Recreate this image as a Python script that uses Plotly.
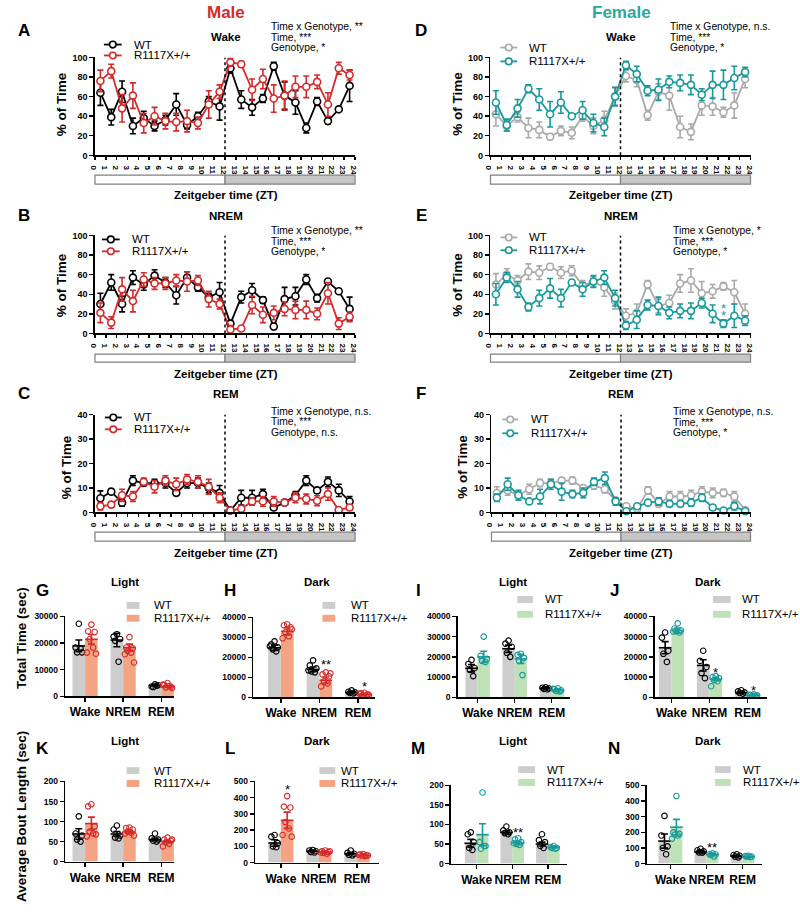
import plotly.graph_objects as go

W, H = 800, 922
FONT = "Liberation Sans, Arial, Helvetica, sans-serif"
RED = '#d42a2a'
TEAL = '#17999b'
TEAL_T = '#2aa8a0'
GRAY_L = '#a9a9a9'
BAR_GRAY = '#cdcdcd'
BAR_OR = '#f4a383'
BAR_GR = '#bfe1b8'

# ---------------- data ----------------
zt = [0.5, 1.5, 2.5, 3.5, 4.5, 5.5, 6.5, 7.5, 8.5, 9.5, 10.5, 11.5,
      12.5, 13.5, 14.5, 15.5, 16.5, 17.5, 18.5, 19.5, 20.5, 21.5, 22.5, 23.5]
zt_ticks = [0, 1, 2, 3, 4, 5, 6, 7, 8, 9, 10, 11, 12, 13, 14, 15, 16, 17, 18, 19, 20, 21, 22, 23, 24]

A_wt = [64, 39, 65, 30, 38, 30, 36, 52, 31, 40, 55, 50, 89, 57, 49, 58, 91, 61, 54, 28, 55, 35, 47, 71]
A_wt_err = [13, 8, 11, 8, 7, 5, 5, 11, 4, 4, 5, 14, 5, 9, 8, 4, 4, 14, 12, 5, 4, 3, 2, 16]
A_ko = [76, 86, 48, 61, 33, 40, 35, 34, 35, 33, 52, 65, 95, 93, 67, 78, 58, 61, 70, 70, 75, 52, 89, 82]
A_ko_err = [11, 7, 14, 13, 10, 9, 8, 9, 11, 6, 14, 7, 4, 3, 11, 10, 14, 15, 11, 11, 7, 12, 6, 5]

B_wt = [30, 52, 30, 57, 50, 59, 52, 39, 57, 47, 37, 42, 10, 37, 44, 34, 7, 35, 38, 55, 36, 53, 43, 25]
B_wt_err = [11, 8, 8, 7, 6, 6, 5, 9, 6, 4, 4, 10, 3, 6, 7, 3, 3, 12, 9, 5, 4, 2, 2, 12]
B_ko = [21, 11, 45, 33, 55, 51, 51, 54, 53, 54, 35, 30, 4, 5, 29, 19, 21, 25, 24, 24, 20, 41, 10, 17]
B_ko_err = [10, 6, 12, 11, 7, 6, 6, 6, 10, 5, 8, 5, 4, 2, 9, 8, 7, 7, 9, 9, 6, 11, 6, 5]

C_wt = [5.8, 8.5, 4, 13, 12, 12, 12, 8, 12, 12, 10, 8, 0.8, 6, 6, 7.5, 2, 4, 7, 13, 9, 12.5, 9, 4.5]
C_wt_err = [3, 1, 1.5, 2, 1, 1.5, 2, 1, 2, 2, 2, 3, 0.5, 3, 3, 2, 1, 1, 1.5, 2, 1, 2, 2.5, 2]
C_ko = [2.5, 3.2, 7, 6.5, 12.5, 10.5, 13, 11.5, 13.5, 12.5, 10.5, 6, 0.8, 1.5, 4.5, 4.5, 4.5, 4, 6, 5.5, 4.8, 7.5, 1, 2]
C_ko_err = [1.5, 1, 2.5, 2, 1.5, 2.5, 2, 2.5, 2, 2.5, 3, 2, 0.5, 0.5, 1.5, 2, 2, 1, 2, 2, 2, 2.5, 0.5, 1]

D_wt = [42, 30, 39, 28, 26, 19, 25, 23, 40, 30, 36, 60, 81, 77, 41, 65, 61, 29, 24, 51, 50, 44, 51, 78]
D_wt_err = [12, 5, 5, 10, 8, 3, 5, 6, 5, 8, 9, 10, 6, 7, 5, 8, 15, 11, 8, 10, 9, 5, 13, 9]
D_ko = [54, 31, 48, 68, 57, 42, 54, 40, 46, 33, 29, 60, 92, 83, 66, 67, 75, 74, 72, 62, 72, 72, 79, 85]
D_ko_err = [12, 6, 9, 4, 11, 13, 11, 2, 9, 9, 9, 9, 4, 8, 5, 11, 6, 8, 10, 6, 14, 15, 12, 5]

E_wt = [50, 60, 54, 63, 62, 68, 62, 64, 49, 53, 47, 33, 18, 21, 50, 28, 31, 51, 54, 41, 43, 48, 42, 20]
E_wt_err = [11, 6, 5, 8, 7, 3, 6, 5, 5, 5, 9, 8, 7, 9, 4, 7, 8, 9, 12, 12, 7, 4, 12, 10]
E_ko = [40, 57, 45, 27, 36, 46, 36, 52, 45, 53, 57, 36, 8, 14, 29, 28, 21, 23, 23, 31, 20, 10, 18, 13]
E_ko_err = [11, 5, 8, 4, 8, 10, 9, 2, 7, 6, 7, 8, 4, 9, 5, 9, 6, 7, 8, 5, 9, 4, 12, 5]

F_wt = [8, 9, 7, 9.5, 12, 12, 13, 13, 10, 11, 9.5, 5, 2.5, 1.5, 9, 3.5, 6.5, 6.5, 7, 8.5, 8, 8, 6.5, 1]
F_wt_err = [2.5, 2, 1.5, 2, 1.5, 1.5, 1, 1.5, 1, 1.5, 1.5, 1, 1, 1, 1.5, 1, 2, 2, 2, 2, 2, 1.5, 2, 0.5]
F_ko = [6, 11.5, 7, 4.5, 6.5, 11.5, 8.5, 7.5, 8, 12.5, 14, 4.5, 0.5, 2.5, 4, 4.5, 3.5, 3.5, 4, 6, 2, 0.8, 2.5, 0.5]
F_ko_err = [1.5, 2.5, 2, 0.5, 3, 2, 3.5, 1.5, 2, 1.5, 2.5, 1.5, 0.5, 1, 1, 1.5, 1, 1, 1.5, 1.5, 1, 0.5, 1.5, 0.3]

states = ['Wake', 'NREM', 'REM']

G_wt_mean = [18900, 21100, 4100]; G_wt_err = [2200, 2500, 400]
G_ko_mean = [21400, 18300, 3700]; G_ko_err = [1800, 1300, 300]
G_wt_pts = [[27200, 18300, 16500, 16500, 18000], [23300, 22400, 21500, 20800, 13000], [4500, 3700, 4200, 3500, 4000]]
G_ko_pts = [[26900, 24400, 24100, 21400, 18300, 16400, 16000], [22200, 18300, 18000, 17000, 16400, 15800, 12700],
            [5000, 4300, 3600, 3400, 3900, 4400, 3200]]

H_wt_mean = [24800, 14000, 2500]; H_wt_err = [1300, 1200, 400]
H_ko_mean = [33000, 8600, 1600]; H_ko_err = [1800, 1600, 300]
H_wt_pts = [[28000, 26500, 25000, 24000, 23000, 25500], [18500, 16000, 14500, 13000, 12500, 13500], [3500, 2800, 2500, 2200, 2000]]
H_ko_pts = [[36500, 36000, 35000, 32500, 30500, 29500, 34000], [12500, 11500, 10500, 8000, 7000, 5500, 12000],
            [2300, 2000, 1500, 1000, 800, 1900, 1200]]

I_wt_mean = [14400, 24000, 4500]; I_wt_err = [1800, 1800, 300]
I_ko_mean = [20000, 19000, 3700]; I_ko_err = [2800, 2200, 400]
I_wt_pts = [[18500, 16500, 14500, 13500, 10500], [28000, 26500, 25000, 22000, 20000], [5000, 4800, 4500, 4200, 4000]]
I_ko_pts = [[30000, 20500, 19000, 18000, 17500], [21500, 21000, 19500, 18000, 11000], [4500, 4000, 3500, 3200, 3000, 4200]]

J_wt_mean = [24500, 15800, 2300]; J_wt_err = [3000, 2800, 400]
J_ko_mean = [33000, 9000, 1100]; J_ko_err = [1200, 800, 200]
J_wt_pts = [[32000, 29500, 23000, 21500, 17500], [23000, 18000, 15000, 12000, 9500], [3500, 3000, 2500, 2200, 1800]]
J_ko_pts = [[36500, 34000, 33000, 32500, 32000, 32500], [10500, 10000, 9500, 8500, 8000, 5500], [1500, 1200, 1000, 800, 800, 1300]]

K_wt_mean = [69, 69, 55]; K_wt_err = [13, 6, 3]
K_ko_mean = [95, 74, 50]; K_ko_err = [16, 4, 3]
K_wt_pts = [[113, 70, 65, 55, 50], [90, 80, 65, 60, 58], [70, 58, 55, 52, 50]]
K_ko_pts = [[143, 138, 88, 75, 70, 63, 68], [85, 84, 80, 75, 72, 70, 65], [60, 55, 52, 48, 45, 38, 55]]

L_wt_mean = [121, 71, 55]; L_wt_err = [20, 3, 5]
L_ko_mean = [261, 65, 45]; L_ko_err = [50, 3, 3]
L_wt_pts = [[170, 160, 120, 100, 95], [78, 75, 70, 65, 62], [75, 60, 55, 48, 45]]
L_ko_pts = [[410, 345, 340, 250, 210, 170, 160], [75, 70, 65, 60, 55, 62, 70], [52, 50, 45, 42, 40, 48, 44]]

M_wt_mean = [52, 80, 50]; M_wt_err = [10, 4, 5]
M_ko_mean = [74, 53, 42]; M_ko_err = [28, 4, 2]
M_wt_pts = [[80, 75, 55, 40, 35], [95, 85, 80, 78, 75], [75, 60, 55, 45, 40]]
M_ko_pts = [[182, 55, 45, 38, 45], [65, 62, 55, 50, 48, 52], [45, 42, 40, 40, 38]]

N_wt_mean = [144, 74, 48]; N_wt_err = [45, 6, 4]
N_ko_mean = [233, 59, 45]; N_ko_err = [50, 4, 2]
N_wt_pts = [[305, 180, 110, 100, 60], [95, 85, 78, 72, 70], [60, 55, 50, 45, 40]]
N_ko_pts = [[432, 200, 190, 185, 180, 160], [65, 60, 58, 55, 45], [50, 48, 45, 45, 42]]

# ---------------- helpers ----------------
fig = go.Figure()
layout = {}
shapes = []
annos = []
count = [0]


def add_axes(xd, yd, xr, yr, xkw, ykw):
    count[0] += 1
    n = count[0]
    s = '' if n == 1 else str(n)
    layout['xaxis' + s] = dict(domain=xd, range=xr, anchor='y' + s, **xkw)
    layout['yaxis' + s] = dict(domain=yd, range=yr, anchor='x' + s, **ykw)
    return 'x' + s, 'y' + s


def text(x, y, s, size, color='black', xanchor='center', yanchor='middle', angle=0):
    annos.append(dict(x=x / W, y=1 - y / H, xref='paper', yref='paper', text=s, showarrow=False,
                      font=dict(family=FONT, size=size, color=color), xanchor=xanchor,
                      yanchor=yanchor, textangle=angle))


def star(xa, ya, x, y, s, size=13, color='black'):
    annos.append(dict(x=x, y=y, xref=xa, yref=ya, text=s, showarrow=False,
                      font=dict(family=FONT, size=size, color=color), yshift=-4))


AX = dict(showline=True, linecolor='black', linewidth=1.6, ticks='outside', tickcolor='black',
          tickwidth=1.4, showgrid=False, zeroline=False, fixedrange=True)


def line_panel(px0, px1, py0, py1, ymax, ytv, wt, wt_err, ko, ko_err, wtc, koc, strip):
    xkw = dict(AX, tickvals=zt_ticks, ticklen=3,
               tickfont=dict(family=FONT, size=8, color='black', weight='bold'))
    ykw = dict(AX, tickvals=ytv, ticklen=4,
               tickfont=dict(family=FONT, size=9, color='black', weight='bold'))
    xa, ya = add_axes([px0 / W, px1 / W], [1 - py1 / H, 1 - py0 / H], [0, 24], [0, ymax], xkw, ykw)
    shapes.append(dict(type='line', xref=xa, yref=ya, x0=12, x1=12, y0=0, y1=ymax,
                       line=dict(color='black', width=1.5, dash='dot')))
    for y, e, c in ((wt, wt_err, wtc), (ko, ko_err, koc)):
        fig.add_trace(go.Scatter(
            x=zt, y=y, mode='lines+markers', xaxis=xa, yaxis=ya, cliponaxis=False, showlegend=False,
            line=dict(color=c, width=1.8),
            marker=dict(symbol='circle', size=7, color='white', line=dict(color=c, width=1.6)),
            error_y=dict(type='data', array=e, color=c, thickness=1.6, width=3)))
    # light/dark strip
    st, sb = strip
    s = (px1 - px0) / 24
    h = sb - st
    hid = dict(visible=False, fixedrange=True)
    sxa, sya = add_axes([(px0 - 0.5 * s) / W, (px1 + 0.5 * s) / W],
                        [1 - (sb + 2) / H, 1 - (st - 2) / H],
                        [-0.5, 24.5], [-2 / h, 1 + 2 / h], hid, hid)
    shapes.append(dict(type='rect', xref=sxa, yref=sya, x0=0, x1=12, y0=0, y1=1,
                       fillcolor='white', line=dict(color='#808080', width=1.2)))
    shapes.append(dict(type='rect', xref=sxa, yref=sya, x0=12, x1=24, y0=0, y1=1,
                       fillcolor='#c6c6c6', line=dict(color='#808080', width=1.2)))
    return xa, ya


def line_legend(lx0, lx1, y_wt, y_ko, tx, wtc, koc):
    for y, c, lab in ((y_wt, wtc, 'WT'), (y_ko, koc, 'R1117X+/+')):
        shapes.append(dict(type='line', xref='paper', yref='paper', x0=lx0 / W, x1=lx1 / W,
                           y0=1 - y / H, y1=1 - y / H, line=dict(color=c, width=1.8)))
        cx = (lx0 + lx1) / 2
        shapes.append(dict(type='circle', xref='paper', yref='paper', x0=(cx - 3.3) / W, x1=(cx + 3.3) / W,
                           y0=1 - (y + 3.3) / H, y1=1 - (y - 3.3) / H, fillcolor='white',
                           line=dict(color=c, width=1.6)))
        text(tx, y, lab, 11.5, xanchor='left')


OFFS = [0.0, -0.085, 0.085, -0.045, 0.045, -0.12, 0.12]


def bar_panel(px0, px1, c0, c2, pyt, pyb, ymax, ytv, wm, we, km, ke, wp, kp, kbar, kcol):
    unit = (c2 - c0) / 2
    xr = [(px0 - c0) / unit, (px1 - c0) / unit]
    xkw = dict(AX, tickvals=[0, 1, 2], ticktext=states, ticklen=4,
               tickfont=dict(family=FONT, size=12, color='black', weight='bold'))
    ykw = dict(AX, tickvals=ytv, ticklen=4, tickformat='d',
               tickfont=dict(family=FONT, size=8.5, color='black', weight='bold'))
    xa, ya = add_axes([px0 / W, px1 / W], [1 - pyb / H, 1 - pyt / H], xr, [0, ymax], xkw, ykw)
    bw = 0.33
    for sgn, m, e, pts, bc, lc in ((-1, wm, we, wp, BAR_GRAY, 'black'), (1, km, ke, kp, kbar, kcol)):
        xs = [i + sgn * bw / 2 for i in range(3)]
        fig.add_trace(go.Bar(x=xs, y=m, width=bw, marker=dict(color=bc, line=dict(width=0)),
                             xaxis=xa, yaxis=ya, showlegend=False))
        dx, dy = [], []
        for i in range(3):
            for k, v in enumerate(pts[i]):
                dx.append(xs[i] + OFFS[k % len(OFFS)])
                dy.append(v)
        fig.add_trace(go.Scatter(x=dx, y=dy, mode='markers', xaxis=xa, yaxis=ya, showlegend=False,
                                 cliponaxis=False,
                                 marker=dict(symbol='circle-open', size=5.5, color=lc, line=dict(width=1.1))))
        fig.add_trace(go.Scatter(x=xs, y=m, mode='markers', xaxis=xa, yaxis=ya, showlegend=False,
                                 cliponaxis=False,
                                 marker=dict(symbol='line-ew-open', size=9, color=lc, line=dict(width=1.6, color=lc)),
                                 error_y=dict(type='data', array=e, color=lc, thickness=1.6, width=3.5)))
    return xa, ya


def bar_legend(sx0, sx1, y_wt, y_ko, tx, kbar):
    for y, c, lab in ((y_wt, BAR_GRAY, 'WT'), (y_ko, kbar, 'R1117X+/+')):
        shapes.append(dict(type='rect', xref='paper', yref='paper', x0=sx0 / W, x1=sx1 / W,
                           y0=1 - (y + 3.5) / H, y1=1 - (y - 3.5) / H, fillcolor=c, line=dict(width=0)))
        text(tx, y, lab, 11.5, xanchor='left')


# ---------------- line panels ----------------
ax_A = line_panel(90, 353, 53, 152, 100, [0, 20, 40, 60, 80, 100], A_wt, A_wt_err, A_ko, A_ko_err, 'black', RED, (172, 181))
ax_B = line_panel(90, 353, 233, 332, 100, [0, 20, 40, 60, 80, 100], B_wt, B_wt_err, B_ko, B_ko_err, 'black', RED, (353, 361))
ax_C = line_panel(90, 353, 414, 513, 40, [0, 10, 20, 30, 40], C_wt, C_wt_err, C_ko, C_ko_err, 'black', RED, (533, 542))
ax_D = line_panel(490, 753, 53, 152, 100, [0, 20, 40, 60, 80, 100], D_wt, D_wt_err, D_ko, D_ko_err, GRAY_L, TEAL, (172, 181))
ax_E = line_panel(490, 753, 233, 332, 100, [0, 20, 40, 60, 80, 100], E_wt, E_wt_err, E_ko, E_ko_err, GRAY_L, TEAL, (353, 361))
ax_F = line_panel(491, 753, 414, 513, 40, [0, 10, 20, 30, 40], F_wt, F_wt_err, F_ko, F_ko_err, GRAY_L, TEAL, (533, 542))

star(*ax_A, 22.5, 103, '*', 15, RED)
star(*ax_E, 21.5, 30, '*', 13, TEAL)
star(*ax_E, 21.5, 22, '*', 13, TEAL)

line_legend(99, 117, 40, 51, 127, 'black', RED)
line_legend(97, 115, 237, 249, 125, 'black', RED)
line_legend(100, 117, 417, 429, 127, 'black', RED)
line_legend(500, 517, 43, 57, 527, GRAY_L, TEAL)
line_legend(500, 517, 235, 248, 527, GRAY_L, TEAL)
line_legend(502, 518, 419, 433, 529, GRAY_L, TEAL)

# ---------------- bar panels ----------------
ax_G = bar_panel(60, 170, 80, 157, 618, 699, 30000, [0, 10000, 20000, 30000],
                 G_wt_mean, G_wt_err, G_ko_mean, G_ko_err, G_wt_pts, G_ko_pts, BAR_OR, RED)
ax_H = bar_panel(250, 373, 278, 356, 619, 700, 40000, [0, 10000, 20000, 30000, 40000],
                 H_wt_mean, H_wt_err, H_ko_mean, H_ko_err, H_wt_pts, H_ko_pts, BAR_OR, RED)
ax_I = bar_panel(457, 570, 477, 552, 618, 700, 40000, [0, 10000, 20000, 30000, 40000],
                 I_wt_mean, I_wt_err, I_ko_mean, I_ko_err, I_wt_pts, I_ko_pts, BAR_GR, TEAL)
ax_J = bar_panel(656, 770, 673, 750, 618, 700, 40000, [0, 10000, 20000, 30000, 40000],
                 J_wt_mean, J_wt_err, J_ko_mean, J_ko_err, J_wt_pts, J_ko_pts, BAR_GR, TEAL)
ax_K = bar_panel(60, 170, 80, 157, 785, 866, 200, [0, 50, 100, 150, 200],
                 K_wt_mean, K_wt_err, K_ko_mean, K_ko_err, K_wt_pts, K_ko_pts, BAR_OR, RED)
ax_L = bar_panel(252, 377, 278, 355, 785, 867, 500, [0, 100, 200, 300, 400, 500],
                 L_wt_mean, L_wt_err, L_ko_mean, L_ko_err, L_wt_pts, L_ko_pts, BAR_OR, RED)
ax_M = bar_panel(450, 567, 476, 548, 789, 868, 200, [0, 50, 100, 150, 200],
                 M_wt_mean, M_wt_err, M_ko_mean, M_ko_err, M_wt_pts, M_ko_pts, BAR_GR, TEAL)
ax_N = bar_panel(648, 765, 672, 745, 789, 868, 500, [0, 100, 200, 300, 400, 500],
                 N_wt_mean, N_wt_err, N_ko_mean, N_ko_err, N_wt_pts, N_ko_pts, BAR_GR, TEAL)

star(*ax_H, 0.165, 42000, '**')
star(*ax_H, 1.165, 18300, '**')
star(*ax_H, 2.165, 7400, '*')
star(*ax_J, 0.165, 41000, '*')
star(*ax_J, 1.165, 14200, '*')
star(*ax_J, 2.165, 5400, '*')
star(*ax_L, 0.165, 476, '*')
star(*ax_M, 1.165, 91, '**')
star(*ax_N, 1.165, 127, '**')

bar_legend(122, 135, 607, 620, 148, BAR_OR)
bar_legend(320, 333, 607, 620, 347, BAR_OR)
bar_legend(517, 533, 601, 616, 543, BAR_GR)
bar_legend(715, 733, 601, 616, 742, BAR_GR)
bar_legend(122, 135, 774, 787, 148, BAR_OR)
bar_legend(317, 333, 774, 787, 337, BAR_OR)
bar_legend(518, 535, 773, 786, 545, BAR_GR)
bar_legend(717, 733, 773, 786, 743, BAR_GR)

# ---------------- texts ----------------
text(223, 8, '<b>Male</b>', 17, RED)
text(623, 8, '<b>Female</b>', 17, TEAL_T)
for lab, x, y in (('A', 18, 26), ('B', 18, 213), ('C', 18, 393), ('D', 420, 26), ('E', 420, 213), ('F', 420, 393),
                  ('G', 37, 592), ('H', 227, 592), ('I', 417, 592), ('J', 615, 592),
                  ('K', 37, 752), ('L', 227, 752), ('M', 417, 752), ('N', 615, 752)):
    text(x, y, '<b>%s</b>' % lab, 17)
for lab, x, y in (('Wake', 222, 32), ('NREM', 222, 213), ('REM', 222, 393),
                  ('Wake', 622, 32), ('NREM', 622, 213), ('REM', 622, 393)):
    text(x, y, '<b>%s</b>' % lab, 11.5)
for lab, x, y in (('Light', 120, 583), ('Dark', 315, 583), ('Light', 513, 583), ('Dark', 710, 583),
                  ('Light', 120, 744), ('Dark', 315, 744), ('Light', 513, 744), ('Dark', 710, 744)):
    text(x, y, '<b>%s</b>' % lab, 11.5)
for x, y in ((222, 192), (222, 373), (222, 554), (622, 192), (622, 373), (622, 554)):
    text(x, y, '<b>Zeitgeber time (ZT)</b>', 11.5)
for x, y in ((57, 100), (57, 283), (62, 467), (457, 100), (457, 283), (462, 467)):
    text(x, y, '<b>% of Time</b>', 13.5, angle=-90)
text(15, 640, '<b>Total Time (sec)</b>', 13.5, angle=-90)
text(15, 820, '<b>Average Bout Length (sec)</b>', 13.5, angle=-90)

stats = [
    (266, (22, 33, 43), ('Time x Genotype, **', 'Time, ***', 'Genotype, *')),
    (266, (228, 239, 249), ('Time x Genotype, **', 'Time, ***', 'Genotype, *')),
    (266, (411, 421, 432), ('Time x Genotype, n.s.', 'Time, ***', 'Genotype, n.s.')),
    (670, (22, 33, 43), ('Time x Genotype, n.s.', 'Time, ***', 'Genotype, *')),
    (673, (228, 239, 249), ('Time x Genotype, *', 'Time, ***', 'Genotype, *')),
    (673, (411, 422, 432), ('Time x Genotype, n.s.', 'Time, ***', 'Genotype, *')),
]
for x, ys, labs in stats:
    for y, lab in zip(ys, labs):
        text(x, y, lab, 10.3, xanchor='left')

fig.update_layout(**layout)
fig.update_layout(width=W, height=H, margin=dict(l=0, r=0, t=0, b=0), paper_bgcolor='white',
                  plot_bgcolor='rgba(0,0,0,0)', barmode='overlay', showlegend=False,
                  shapes=shapes, annotations=annos, font=dict(family=FONT, color='black'))
fig.write_html("out.html", config={'displayModeBar': False, 'staticPlot': True},
               post_script="document.body.style.margin='0px';document.body.style.overflow='hidden';")
